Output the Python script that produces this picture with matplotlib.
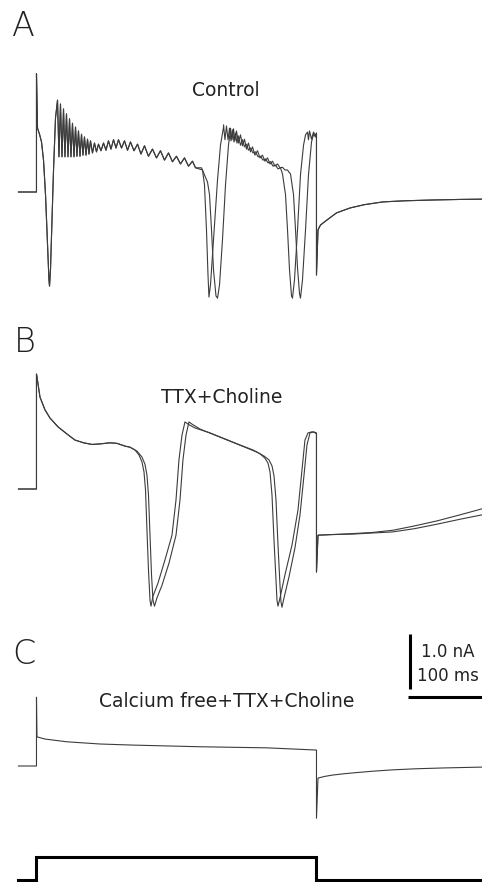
import numpy as np
import matplotlib.pyplot as plt

# time in ms from step onset, current in nA relative to holding current

# ---- A: control, two sweeps ----
a_start_t = [-22.5, 0, 0, 1.3, 3.8, 6.3, 8.8, 11.3, 13.8, 15.6, 16.3, 17.5, 18.8, 21.3, 23.8]
a_start_i = [0, 0, 2.15, 1.16, 1.05, 0.91, 0.58, -0.05, -0.96, -1.6, -1.71, -1.42, -0.78, 0.4, 1.35]

a_burst1_pk_t = [26.3, 30, 33.8, 37.5, 41.3, 45, 48.8, 52.5, 56.3, 60, 63.8, 67.5, 72.5, 77.5,
                 83.8, 90, 96.3, 102.5, 110, 117.5, 126.3, 135, 145, 155, 165, 175, 185, 195]
a_burst1_pk_i = [1.67, 1.60, 1.51, 1.42, 1.33, 1.25, 1.18, 1.11, 1.05, 1.00, 0.96, 0.93, 0.89, 0.87,
                 0.89, 0.93, 0.95, 0.95, 0.93, 0.91, 0.87, 0.84, 0.78, 0.75, 0.71, 0.65, 0.62, 0.56]
a_burst1_tr_t = [28.1, 31.9, 35.6, 39.4, 43.1, 46.9, 50.6, 54.4, 58.1, 61.9, 65.6, 70, 75, 80.6,
                 86.9, 93.1, 99.4, 106.3, 113.8, 121.9, 130.6, 140, 150, 160, 170, 180, 190, 198.8]
a_burst1_tr_i = [0.64, 0.64, 0.64, 0.64, 0.64, 0.64, 0.65, 0.65, 0.67, 0.67, 0.69, 0.71, 0.73, 0.75,
                 0.76, 0.78, 0.80, 0.80, 0.76, 0.75, 0.69, 0.65, 0.62, 0.58, 0.55, 0.51, 0.47, 0.44]

a1_mid_t = [207.5, 210, 212.5, 214.4, 215.6, 217.5, 221.3, 226.3, 230, 233.8]
a1_mid_i = [0.40, 0.13, -0.69, -1.51, -1.91, -1.69, -0.87, 0.22, 0.85, 1.18]
a1_burst2_pk_t = [233.8, 237.5, 241.3, 245, 248.8, 252.5, 257.5, 262.5, 267.5, 273.8, 280, 286.3, 292.5, 298.8, 305]
a1_burst2_pk_i = [1.22, 1.20, 1.16, 1.13, 1.07, 1.02, 0.95, 0.87, 0.80, 0.73, 0.65, 0.60, 0.55, 0.49, 0.44]
a1_burst2_tr_t = [235.6, 239.4, 243.1, 246.9, 250.6, 255, 260, 265, 270.6, 276.9, 283.1, 289.4, 295.6, 301.9, 306.3]
a1_burst2_tr_i = [0.95, 0.95, 0.93, 0.91, 0.89, 0.85, 0.82, 0.76, 0.71, 0.64, 0.58, 0.53, 0.47, 0.42, 0.38]
a1_end_t = [307.5, 311.3, 313.8, 316.3, 318.8, 320, 322.5, 326.3, 330, 333.8, 336.3,
            338.8, 340, 341.3, 343.8, 346.3, 348.8, 350]
a1_end_i = [0.33, -0.05, -0.69, -1.42, -1.89, -1.93, -1.6, -0.69, 0.31, 0.85, 1.04,
            1.09, 0.95, 1.11, 0.96, 1.09, 1.02, 1.07]

a2_mid_t = [206.3, 210, 213.8, 216.3, 218.8, 221.3, 224.4, 226.3, 228.8, 232.5, 236.3, 240, 242.5]
a2_mid_i = [0.44, 0.31, 0.18, -0.05, -0.69, -1.42, -1.89, -1.93, -1.69, -0.87, 0.13, 0.85, 1.13]
a2_burst2_pk_t = [242.5, 246.3, 250, 255, 260, 265, 270, 276.3, 282.5, 288.8, 295, 301.3, 307.5, 313.8]
a2_burst2_pk_i = [1.16, 1.15, 1.11, 1.04, 0.96, 0.89, 0.82, 0.75, 0.67, 0.62, 0.56, 0.51, 0.45, 0.40]
a2_burst2_tr_t = [244.4, 248.1, 252.5, 257.5, 262.5, 267.5, 273.1, 279.4, 285.6, 291.9, 298.1, 304.4, 310.6, 315.6]
a2_burst2_tr_i = [0.95, 0.93, 0.89, 0.84, 0.78, 0.73, 0.67, 0.62, 0.56, 0.51, 0.47, 0.44, 0.40, 0.36]
a2_end_t = [317.5, 321.3, 323.8, 326.3, 328.8, 330, 332.5, 336.3, 340, 343.8, 346.3, 348.8, 350]
a2_end_i = [0.33, -0.05, -0.69, -1.38, -1.85, -1.93, -1.6, -0.69, 0.31, 0.91, 1.05, 1.0, 1.07]

a_tail_t = [350, 351.9, 355, 363, 375, 392, 410, 433, 460, 496, 530, 557]
a_tail_i = [-1.51, -0.69, -0.6, -0.51, -0.38, -0.29, -0.23, -0.18, -0.16, -0.145, -0.135, -0.13]

# ---- B: TTX + choline, two sweeps ----
b_start_t = [-22.5, 0, 0, 0.6, 4.4, 10.6, 16.9, 26.9, 38.1, 48.1, 58.8, 69.4, 79.4, 91.9, 100.6, 110.6, 116.9]
b_start_i = [0, 0, 2.09, 2.04, 1.67, 1.44, 1.29, 1.13, 1.0, 0.89, 0.84, 0.81, 0.82, 0.84, 0.83, 0.78, 0.76]

b1_t = [123.1, 128.1, 131.9, 134.4, 136.3, 138.1, 140, 141.9, 143.1, 145.6, 151.9, 160.6, 169.4, 174.4,
        178.1, 181.9, 185.6, 189.4, 198.1, 216.9, 235.6, 254.4, 270.6, 279.4, 285.6, 289.4, 291.9,
        294.4, 296.9, 299.4, 300.6, 301.9, 304.4, 310.6, 319.4, 326.9, 331.9, 335.6, 339.4, 344.4, 350]
b1_i = [0.71, 0.62, 0.49, 0.31, -0.02, -0.75, -1.47, -2.02, -2.13, -1.95, -1.71, -1.29, -0.84, -0.2,
        0.53, 0.98, 1.22, 1.18, 1.11, 1.02, 0.91, 0.8, 0.71, 0.64, 0.56, 0.47, 0.31,
        -0.11, -0.93, -1.65, -2.02, -2.13, -1.98, -1.56, -1.02, -0.38, 0.35, 0.89, 1.02, 1.04, 1.02]
b1_tail_t = [350, 351.9, 366.9, 395.6, 420, 445.6, 473, 500.6, 529.4, 557]
b1_tail_i = [-1.51, -0.84, -0.83, -0.81, -0.79, -0.75, -0.67, -0.58, -0.47, -0.36]

b2_t = [125.6, 131.9, 135.6, 138.1, 140, 141.9, 143.8, 145.6, 147.5, 150.6, 156.9, 165.6, 174.4, 179.4,
        183.1, 186.9, 190.6, 194.4, 204.4, 223.1, 241.9, 260.6, 275.6, 284.4, 290.6, 294.4, 296.9,
        299.4, 301.9, 304.4, 305.6, 306.9, 309.4, 315.6, 323.1, 329.4, 334.4, 338.1, 341.9, 346.9, 350]
b2_i = [0.69, 0.58, 0.45, 0.25, -0.11, -0.84, -1.56, -2.02, -2.13, -1.98, -1.75, -1.35, -0.84, -0.2,
        0.53, 0.98, 1.22, 1.18, 1.09, 0.98, 0.87, 0.76, 0.67, 0.6, 0.53, 0.42, 0.24,
        -0.2, -1.02, -1.75, -2.05, -2.15, -1.98, -1.6, -1.07, -0.47, 0.25, 0.8, 1.02, 1.04, 1.0]
b2_tail_t = [350, 351.9, 366.9, 395.6, 420, 445.6, 473, 500.6, 529.4, 557]
b2_tail_i = [-1.51, -0.84, -0.83, -0.82, -0.8, -0.78, -0.72, -0.64, -0.55, -0.47]

# ---- C: calcium free + TTX + choline ----
c_t = [-22.5, 0, 0, 0.6, 10.6, 38.1, 79.4, 120.6, 204.4, 288.1, 350, 350,
       351.9, 360, 370, 385, 400, 420, 445, 475, 510, 557]
c_i = [0, 0, 1.25, 0.53, 0.49, 0.44, 0.4, 0.38, 0.35, 0.33, 0.29, -0.95,
       -0.22, -0.19, -0.165, -0.14, -0.12, -0.095, -0.07, -0.05, -0.035, -0.02]

# ---- voltage command (relative units) ----
v_t = [-22.5, 0, 0, 350, 350, 557]
v_lvl = [0, 0, 1, 1, 0, 0]


def spikes(pk_t, pk_i, tr_t, tr_i):
    t = np.column_stack([pk_t, tr_t]).ravel()
    i = np.column_stack([pk_i, tr_i]).ravel()
    return t, i


def join(*parts):
    return (np.concatenate([p[0] for p in parts]),
            np.concatenate([p[1] for p in parts]))


burst1 = spikes(a_burst1_pk_t, a_burst1_pk_i, a_burst1_tr_t, a_burst1_tr_i)
a1 = join((a_start_t, a_start_i), burst1, (a1_mid_t, a1_mid_i),
          spikes(a1_burst2_pk_t, a1_burst2_pk_i, a1_burst2_tr_t, a1_burst2_tr_i),
          (a1_end_t, a1_end_i), (a_tail_t, a_tail_i))
a2 = join((a_start_t, a_start_i), burst1, (a2_mid_t, a2_mid_i),
          spikes(a2_burst2_pk_t, a2_burst2_pk_i, a2_burst2_tr_t, a2_burst2_tr_i),
          (a2_end_t, a2_end_i), (a_tail_t, a_tail_i))
b1 = join((b_start_t, b_start_i), (b1_t, b1_i), (b1_tail_t, b1_tail_i))
b2 = join((b_start_t, b_start_i), (b2_t, b2_i), (b2_tail_t, b2_tail_i))

W, H = 482, 882
XMIN, XMAX = -45.6, 556.9
PX_NA = 55  # pixels per nA

fig = plt.figure(figsize=(W / 100, H / 100), dpi=100)


def layer(base_px, scale=PX_NA):
    ax = fig.add_axes([0, 0, 1, 1])
    ax.set_xlim(XMIN, XMAX)
    ax.set_ylim((base_px - H) / scale, base_px / scale)
    ax.axis('off')
    ax.patch.set_alpha(0)
    return ax


trace = dict(color='#3c3c3c', lw=0.8)
font = dict(family='DejaVu Sans', color='#222222')

axA = layer(192)
axA.plot(*a1, **trace)
axA.plot(*a2, **trace)
axA.text(237, 1.84, 'Control', ha='center', va='center', fontsize=13.5, **font)

axB = layer(489)
axB.plot(*b1, **trace)
axB.plot(*b2, **trace)
axB.text(231, 1.67, 'TTX+Choline', ha='center', va='center', fontsize=13.5, **font)

axC = layer(766)
axC.plot(c_t, c_i, **trace)
axC.text(238, 1.18, 'Calcium free+TTX+Choline', ha='center', va='center', fontsize=13.5, **font)
# scale bars: 1.0 nA and 100 ms
axC.plot([467, 467], [1.4, 2.4], color='black', lw=2.2, solid_capstyle='butt')
axC.plot([464.4, 564.4], [1.25, 1.25], color='black', lw=2.2, solid_capstyle='butt')
axC.text(481, 2.07, '1.0 nA', ha='left', va='center', fontsize=12, **font)
axC.text(476, 1.63, '100 ms', ha='left', va='center', fontsize=12, **font)

axV = layer(880, scale=23)
axV.plot(v_t, v_lvl, color='black', lw=2.2, solid_joinstyle='miter')

for letter, x, y in [('A', 12, 26), ('B', 14, 343), ('C', 12, 655)]:
    fig.text(x / W, 1 - y / H, letter, ha='left', va='center', fontsize=24,
             fontweight='light', **font)

fig.savefig('out.png', dpi=100)
